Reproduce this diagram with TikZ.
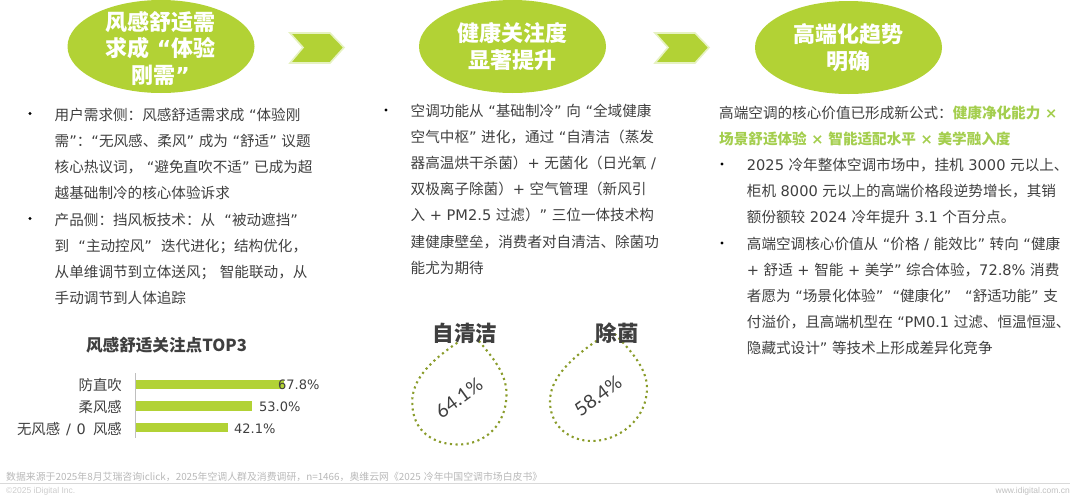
\documentclass[tikz,border=0pt]{standalone}
\usepackage{fontspec}
\usepackage{newunicodechar}
\usetikzlibrary{shapes.geometric}
\setmainfont[WordSpace=1.4]{Noto Sans CJK SC}
\newfontfamily\lat{DejaVu Sans}
\newfontfamily\arial{Liberation Sans}
\newfontfamily\droplab{Lato}
\newunicodechar{“}{{\lat\char"201C}}
\newunicodechar{”}{{\lat\char"201D}}
% full width punctuation
\newcommand{\dou}{\char"FF0C\relax}
\newcommand{\mao}{\char"FF1A\relax}
\newcommand{\fen}{\char"FF1B\relax}
\newcommand{\zuo}{\char"FF08\relax}
\newcommand{\you}{\char"FF09\relax}
\definecolor{leaf}{HTML}{B2D235}
\definecolor{leafglow}{HTML}{E6F2C2}
\definecolor{leaftext}{HTML}{A4CE4E}
\definecolor{olivedot}{HTML}{8A9C2B}
\definecolor{inkgrey}{HTML}{3F3F3F}
\tikzset{
	topic/.style={ellipse,fill=leaf,inner sep=0pt,minimum width=187pt,minimum height=93pt},
	topictext/.style={align=center,text=white,inner sep=0pt,font=\fontsize{22}{26.5}\selectfont\bfseries},
	chevron/.style={fill=leaf,draw=leafglow,line width=1.6pt,line join=miter},
	bodytext/.style={anchor=north west,align=left,inner sep=0pt,text=inkgrey,font=\fontsize{14.6}{26.2}\selectfont,execute at begin node=\strut},
	bulletdot/.style={circle,fill=black,inner sep=0pt,minimum size=3.2pt},
	barlabel/.style={anchor=east,inner sep=0pt,text=inkgrey,font=\fontsize{14.4}{16}\selectfont},
	barvalue/.style={anchor=west,inner sep=0pt,text=inkgrey,font=\lat\fontsize{13}{15}\selectfont},
	droptitle/.style={inner sep=0pt,text=inkgrey,font=\fontsize{21.5}{24}\selectfont\bfseries},
	dropvalue/.style={inner sep=0pt,rotate=36,text=inkgrey,font=\droplab\fontsize{19}{22}\selectfont},
	droplet/.style={draw=olivedot,line width=2.1pt,dash pattern=on 2.1pt off 3.5pt},
}
\begin{document}
\begin{tikzpicture}[x=1pt,y=-1pt]
	\useasboundingbox (0,0) rectangle (1080,501);

	% three headline ovals
	\node[topic] (ovalwind) at (161,46.5) {};
	\node[topic] (ovalhealth) at (512.5,46.5) {};
	\node[topic] (ovalhigh) at (848.5,47.5) {};
	\node[topictext] (headwind) at (160.5,48) {风感舒适需\\求成 “体验\\刚需”};
	\node[topictext] (headhealth) at (512.5,46.5) {健康关注度\\显著提升};
	\node[topictext] (headhigh) at (848.5,47.5) {高端化趋势\\明确};

	\draw[chevron] (290,33) -- +(40,0) -- +(54,14.5) -- +(40,30) -- +(0,30) -- +(13,14.5) -- cycle;
	\draw[chevron] (655,33) -- +(40,0) -- +(54,14.5) -- +(40,30) -- +(0,30) -- +(13,14.5) -- cycle;

	% left column
	\node[bulletdot] (dotuser) at (30,113.5) {};
	\node[bodytext] (textuser) at (54.5,107.8) {用户需求侧\mao 风感舒适需求成 “体验刚\\需”\mao “无风感、柔风” 成为 “舒适” 议题\\核心热议词\dou\ “避免直吹不适” 已成为超\\越基础制冷的核心体验诉求};
	\node[bulletdot] (dotprod) at (30,218.5) {};
	\node[bodytext] (textprod) at (54.5,212.8) {产品侧\mao 挡风板技术\mao 从 \ “被动遮挡”\\到 \ “主动控风” \ 迭代进化\fen 结构优化\dou\\从单维调节到立体送风\fen\ 智能联动\dou 从\\手动调节到人体追踪};

	% small bar chart
	\node[inner sep=0pt,text=inkgrey,font=\fontsize{16.6}{18}\selectfont\bfseries] (charttitle) at (166.5,345) {风感舒适关注点TOP3};
	\draw[black!25,line width=0.7pt] (135.5,373) -- (135.5,438);
	\fill[leaf] (136,379.5) rectangle (284,389);
	\fill[leaf] (136,401) rectangle (252,410.5);
	\fill[leaf] (136,422.5) rectangle (228,432);
	\node[barlabel] (catdirect) at (122,385.5) {防直吹};
	\node[barlabel] (catsoft) at (122,407) {柔风感};
	\node[barlabel] (catnone) at (122,429) {无风感\kern1.3pt{} {\lat /}\kern1.3pt{} {\lat 0}\kern1.3pt{} \kern1.3pt风感};
	\node[barvalue] (valdirect) at (278,385) {67.8\%};
	\node[barvalue] (valsoft) at (259,407) {53.0\%};
	\node[barvalue] (valnone) at (234,428.5) {42.1\%};

	% middle column
	\node[bulletdot] (dotair) at (386,110) {};
	\node[bodytext] (textair) at (410.5,103.5) {空调功能从 “基础制冷” 向 “全域健康\\空气中枢” 进化\dou 通过 “自清洁\zuo 蒸发\\器高温烘干杀菌\you{\lat +} 无菌化\zuo 日光氧 {\lat /}\\双极离子除菌\you{\lat +} 空气管理\zuo 新风引\\入 {\lat +} {\lat PM2.5} 过滤\you” 三位一体技术构\\建健康壁垒\dou 消费者对自清洁、除菌功\\能尤为期待};

	% two droplets
	\draw[droplet] (457.3,342.7) .. controls (435,358) and (411,378) .. (412.3,403.3) .. controls (412.5,430) and (432,444.5) .. (458,444.5) .. controls (485,444.5) and (506,425) .. (506.5,395) .. controls (507,372) and (490,355) .. (478.3,340);
	\draw[droplet] (596.7,340.7) .. controls (572,358) and (549,378) .. (550,403) .. controls (551,427) and (570,441) .. (592,441) .. controls (618,441) and (647,420) .. (647,388) .. controls (647,368) and (630,350) .. (615,334);
	\node[droptitle] (titleclean) at (465,333) {自清洁};
	\node[droptitle] (titlegerm) at (617,333) {除菌};
	\node[dropvalue] (valclean) at (459,398) {64.1\%};
	\node[dropvalue] (valgerm) at (598,396) {58.4\%};

	% right column
	\node[bodytext] (textformula) at (719,105.5) {高端空调的核心价值已形成新公式\mao\textcolor{leaftext}{\bfseries 健康净化能力 {\lat ×}}\\\textcolor{leaftext}{\bfseries 场景舒适体验 {\lat ×} 智能适配水平 {\lat ×} 美学融入度}};
	\node[bulletdot] (dotmarket) at (722,164) {};
	\node[bodytext] (textmarket) at (746.7,157.5) {{\lat 2025} 冷年整体空调市场中\dou 挂机 {\lat 3000} 元以上、\\柜机 {\lat 8000} 元以上的高端价格段逆势增长\dou 其销\\额份额较 {\lat 2024} 冷年提升 {\lat 3.1} 个百分点。};
	\node[bulletdot] (dotvalue) at (722,243) {};
	\node[bodytext] (textvalue) at (746.7,236.5) {高端空调核心价值从 “价格 {\lat /} 能效比” 转向 “健康\\{\lat +} 舒适 {\lat +} 智能 {\lat +} 美学” 综合体验\dou{\lat 72.8\%} 消费\\者愿为 “场景化体验” \ “健康化” \ \ “舒适功能” 支\\付溢价\dou 且高端机型在 “{\lat PM0.1} 过滤、恒温恒湿、\\隐藏式设计” 等技术上形成差异化竞争};

	% footer
	\node[anchor=west,inner sep=0pt,text=black!28,font=\fontsize{9.87}{12}\selectfont] (source) at (6,476.5) {数据来源于2025年8月艾瑞咨询iclick\dou 2025年空调人群及消费调研\dou n=1466\dou 奥维云网《2025 冷年中国空调市场白皮书》};
	\draw[black!15,line width=0.8pt] (0,483.5) -- (1070,483.5);
	\node[anchor=west,inner sep=0pt,text=black!20,font=\arial\fontsize{8.5}{10}\selectfont] (copyright) at (6,491) {©2025 iDigital Inc.};
	\node[anchor=east,inner sep=0pt,text=black!25,font=\arial\fontsize{8.5}{10}\selectfont] (website) at (1070,491) {www.idigital.com.cn};
\end{tikzpicture}
\end{document}
